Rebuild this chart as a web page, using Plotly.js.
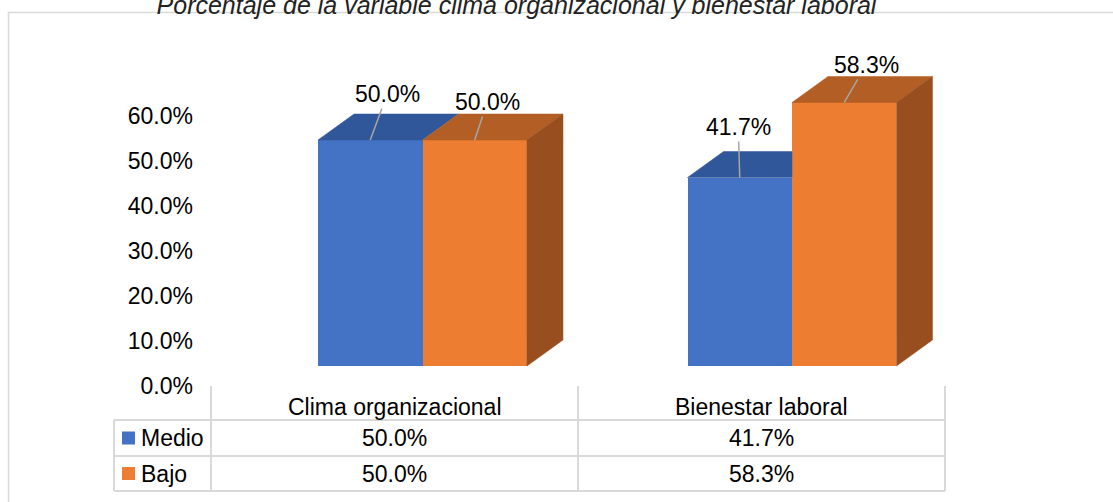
<!DOCTYPE html>
<html>
<head>
<meta charset="utf-8">
<script src="https://cdn.plot.ly/plotly-3.0.1.min.js"></script>
<style>
  html, body { margin: 0; padding: 0; background: #fff; }
  #chart { width: 1113px; height: 502px; }
</style>
</head>
<body>
<div id="chart"></div>
<script>
// ---------- data ----------
const chartTitle = 'Porcentaje de la variable clima organizacional y bienestar laboral';
const categories = ['Clima organizacional', 'Bienestar laboral'];
const seriesNames = ['Medio', 'Bajo'];
const medio = [50.0, 41.7];
const bajo = [50.0, 58.3];
const yTickVals = [0, 10, 20, 30, 40, 50, 60];

// ---------- styles ----------
const W = 1113, H = 502;
const FONT = 'Liberation Sans, Arial, sans-serif';
const frontColors = ['#4472C4', '#ED7D31'];
const topColors = ['#30579A', '#B25E25'];
const sideColors = ['#2B4C85', '#984E1F'];
const gridColor = '#D9D9D9';
const barW = 0.2828;          // bar width in category units
const depthX = 0.0974;        // 3D depth, x units
const depthY = 5.75;          // 3D depth, y units
// label offsets (pixels) for [category][series]
const labelOffsets = [[[17, -46], [12.5, -38]], [[-1.5, -50.5], [22, -37.5]]];

const values = [medio, bajo];
const px = x => x / W;
const py = y => 1 - y / H;
const fmt = v => v.toFixed(1) + '%';

const traces = [];
// front faces
values.forEach((vals, s) => {
  traces.push({
    type: 'bar', name: seriesNames[s],
    x: categories.map((c, i) => i), y: vals,
    width: barW, offset: s === 0 ? -barW : 0,
    marker: { color: frontColors[s], line: { width: 0 } },
    showlegend: false, hoverinfo: 'skip'
  });
});
// top faces
values.forEach((vals, s) => {
  vals.forEach((v, i) => {
    const xL = i + (s === 0 ? -barW : 0);
    const xR = xL + barW;
    const next = s + 1 < values.length ? values[s + 1][i] : null;
    let xs, ys;
    if (next !== null && next > v) {
      xs = [xL, xR, xR, xL + depthX, xL];
      ys = [v, v, v + depthY, v + depthY, v];
    } else {
      xs = [xL, xR, xR + depthX, xL + depthX, xL];
      ys = [v, v, v + depthY, v + depthY, v];
    }
    traces.push({
      type: 'scatter', mode: 'lines', x: xs, y: ys, fill: 'toself',
      fillcolor: topColors[s], line: { color: topColors[s], width: 0.5 },
      showlegend: false, hoverinfo: 'skip'
    });
  });
});
// side faces (right-most series)
{
  const s = values.length - 1;
  values[s].forEach((v, i) => {
    const xR = i + barW;
    traces.push({
      type: 'scatter', mode: 'lines',
      x: [xR, xR, xR + depthX, xR + depthX, xR],
      y: [0, v, v + depthY, depthY, 0], fill: 'toself',
      fillcolor: sideColors[s], line: { color: sideColors[s], width: 0.5 },
      showlegend: false, hoverinfo: 'skip'
    });
  });
}
// carrier for tick-label axis
traces.push({ type: 'scatter', x: [null], y: [null], yaxis: 'y2', showlegend: false, hoverinfo: 'skip' });

const annotations = [];
// data labels with leader lines
values.forEach((vals, s) => {
  vals.forEach((v, i) => {
    const off = labelOffsets[i][s];
    annotations.push({
      x: i + (s === 0 ? -barW / 2 : barW / 2), y: v, xref: 'x', yref: 'y',
      text: fmt(v), showarrow: true, arrowhead: 0, arrowwidth: 1.5, arrowcolor: '#A6A6A6',
      ax: off[0], ay: off[1], font: { family: FONT, size: 23, color: '#000' }
    });
  });
});
// data table
const colEdges = [211, 578, 945];
const rowEdges = [386, 420, 456, 491];
const tableLeft = 114;
categories.forEach((c, i) => {
  const cx = (colEdges[i] + colEdges[i + 1]) / 2;
  annotations.push({ x: px(cx), y: py(407), xref: 'paper', yref: 'paper', text: c, showarrow: false,
    xanchor: 'center', yanchor: 'middle', font: { family: FONT, size: 23, color: '#000' } });
  values.forEach((vals, s) => {
    const cy = (rowEdges[s + 1] + rowEdges[s + 2]) / 2;
    annotations.push({ x: px(cx), y: py(cy), xref: 'paper', yref: 'paper', text: fmt(vals[i]), showarrow: false,
      xanchor: 'center', yanchor: 'middle', font: { family: FONT, size: 23, color: '#000' } });
  });
});
seriesNames.forEach((n, s) => {
  const cy = (rowEdges[s + 1] + rowEdges[s + 2]) / 2;
  annotations.push({ x: px(139), y: py(cy), xref: 'paper', yref: 'paper', text: n, showarrow: false,
    xanchor: 'left', yanchor: 'middle', font: { family: FONT, size: 23, color: '#000' } });
});

const shapes = [];
const line = (x0, y0, x1, y1) => shapes.push({ type: 'line', xref: 'paper', yref: 'paper',
  x0: px(x0), y0: py(y0), x1: px(x1), y1: py(y1), line: { color: gridColor, width: 2 } });
// outer frame
shapes.push({ type: 'rect', xref: 'paper', yref: 'paper', x0: px(8.5), y0: py(12.5), x1: px(1125), y1: py(515),
  line: { color: gridColor, width: 1.5 }, fillcolor: 'rgba(0,0,0,0)', layer: 'below' });
line(tableLeft, rowEdges[1], tableLeft, rowEdges[3]);
colEdges.forEach(x => line(x, rowEdges[0], x, rowEdges[3]));
rowEdges.slice(1).forEach(y => line(tableLeft, y, colEdges[colEdges.length - 1], y));
seriesNames.forEach((n, s) => {
  const cy = (rowEdges[s + 1] + rowEdges[s + 2]) / 2;
  shapes.push({ type: 'rect', xref: 'paper', yref: 'paper', x0: px(122), x1: px(135), y0: py(cy - 6.5), y1: py(cy + 6.5),
    line: { width: 0 }, fillcolor: frontColors[s] });
});

const layout = {
  width: W, height: H,
  margin: { l: 0, r: 0, t: 0, b: 0, pad: 0 },
  paper_bgcolor: '#fff', plot_bgcolor: 'rgba(0,0,0,0)',
  showlegend: false,
  title: { text: chartTitle, xref: 'paper', yref: 'container', x: 516.5 / W, y: 1 - 5.5 / H,
    xanchor: 'center', yanchor: 'middle',
    font: { family: FONT, size: 25, color: '#222', style: 'italic' } },
  xaxis: { domain: [0, 1], range: [-422.5 / 369.5, (W - 422.5) / 369.5], visible: false, fixedrange: true },
  yaxis: { domain: [0, 1], range: [(366 - H) / 4.52, 366 / 4.52], visible: false, fixedrange: true },
  yaxis2: { overlaying: 'y', anchor: 'free', position: 193 / W, side: 'left',
    range: [(386 - H) / 4.5, 386 / 4.5], tickmode: 'array', tickvals: yTickVals, ticktext: yTickVals.map(fmt),
    showgrid: false, zeroline: false, showline: false, ticks: '',
    tickfont: { family: FONT, size: 23, color: '#000' }, fixedrange: true },
  annotations: annotations,
  shapes: shapes,
  bargap: 0
};

Plotly.newPlot('chart', traces, layout, { displayModeBar: false, staticPlot: true });
</script>
</body>
</html>
